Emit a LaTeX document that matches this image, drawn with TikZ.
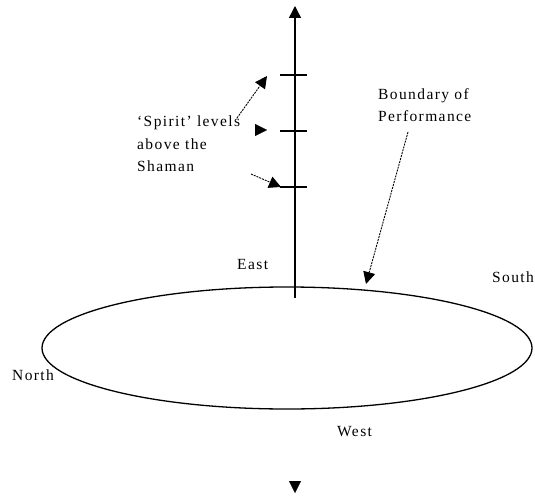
\documentclass[tikz,border=0pt]{standalone}
\usepackage{fontspec}
\setmainfont{Liberation Serif}[LetterSpace=9]
\usetikzlibrary{arrows.meta}
\begin{document}
\begin{tikzpicture}[x=1pt,y=-1pt,
  lbl/.style={inner sep=0pt,anchor=west,font=\fontsize{15.5}{22.5}\selectfont,align=left},
  dashline/.style={line width=0.9pt,dash pattern=on 2pt off 1pt},
  tri/.style={-{Triangle[length=12pt,width=12pt]}},
  axisline/.style={line width=1.4pt},
  ring/.style={line width=1.3pt}]
\useasboundingbox (0,0) rectangle (535,495);
% ellipse
\draw[ring] (287,348) ellipse [x radius=245, y radius=61];
% axis
\coordinate (axb) at (295,298);
\coordinate (axt) at (295,6);
\draw[axisline,tri] (axb) -- (axt);
\coordinate (k1l) at (280,75); \coordinate (k1r) at (307,75);
\coordinate (k2l) at (280,131); \coordinate (k2r) at (307,131);
\coordinate (k3l) at (280,187); \coordinate (k3r) at (307,187);
\draw[axisline] (k1l) -- (k1r);
\draw[axisline] (k2l) -- (k2r);
\draw[axisline] (k3l) -- (k3r);
% labels
\node[lbl] (spirit) at (137,144) {‘Spirit’ levels\\above the\\Shaman};
\node[lbl] (bound) at (378,105) {Boundary of\\Performance};
\node[lbl] (east) at (237,264) {East};
\node[lbl] (south) at (492,277) {South};
\node[lbl] (north) at (12,375) {North};
\node[lbl] (west) at (337,432) {West};
% spirit arrows
\coordinate (s1) at (237,118); \coordinate (t1) at (267,76);
\draw[dashline,tri] (s1) -- (t1);
\coordinate (s2) at (255,130); \coordinate (t2) at (267,130);
\draw[line width=0.1pt,tri] (s2) -- (t2);
\coordinate (s3) at (251,174); \coordinate (t3) at (281,187);
\draw[dashline,tri] (s3) -- (t3);
% boundary arrow
\coordinate (bs) at (408,132); \coordinate (bt) at (366,284);
\draw[dashline,tri] (bs) -- (bt);
% bottom arrow head
\coordinate (ds) at (295,481); \coordinate (dt) at (295,493);
\draw[line width=0.1pt,tri] (ds) -- (dt);
\end{tikzpicture}
\end{document}
